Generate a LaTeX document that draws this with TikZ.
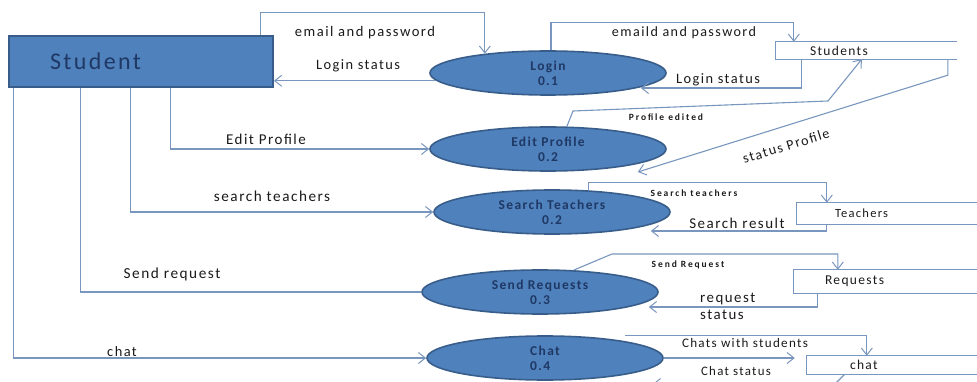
\documentclass[tikz,border=0pt]{standalone}
\usepackage{fontspec}
\setmainfont{Carlito}[LetterSpace=10]
\usetikzlibrary{shapes.geometric,arrows.meta,calc}
\definecolor{fillblue}{HTML}{4F81BD}
\definecolor{edgeblue}{HTML}{385D8A}
\definecolor{linec}{HTML}{7896BE}
\definecolor{navy}{HTML}{1F3864}
\definecolor{labelc}{HTML}{1A1A1A}
\begin{document}
\begin{tikzpicture}[x=1pt,y=-1pt,
  conn/.style={draw=linec, line width=1.1pt},
  arr/.style={conn, -{Straight Barb[length=7pt,width=11pt,line width=1pt]}},
  proc/.style={ellipse, draw=edgeblue, line width=1.6pt, fill=fillblue,
    minimum width=236pt, minimum height=44pt, inner sep=0pt, align=center,
    font=\fontsize{13.5}{15}\selectfont\bfseries, text=navy},
  store/.style={rectangle, inner ysep=0pt, align=left,
    font=\fontsize{13.5}{15}\selectfont, text=labelc},
  lbl/.style={font=\fontsize{14.4}{17}\selectfont, text=labelc, inner sep=0pt},
  small/.style={font=\fontsize{9.5}{11}\selectfont\bfseries\addfontfeature{LetterSpace=20}, text=labelc, inner sep=0pt}
]
\useasboundingbox (0,0) rectangle (977,382);
\clip (0,0) rectangle (977,382);

% external entity
\node[draw=edgeblue, line width=1.8pt, fill=fillblue, minimum height=51pt,
  inner xsep=41pt, text width=182pt, align=left,
  font=\fontsize{24}{26}\selectfont, text=navy] (stu) at (141,61.5) {Student};

% processes
\node[proc] (login)  at (548,73)  {Login\\0.1};
\node[proc] (edit)   at (548,149) {Edit Profile\\0.2};
\node[proc] (search) at (552,212) {Search Teachers\\0.2};
\node[proc] (send)   at (540,292) {Send Requests\\0.3};
\node[proc, align=left] (chat) at (545,358) {Chat\\0.4};

% data stores (open on the right)
\node[store, minimum height=17pt, inner xsep=34pt, text width=113pt] (studs)  at (866.5,50.5) {Students};
\node[store, minimum height=21pt, inner xsep=38pt, text width=117pt, font=\fontsize{12.5}{14}\selectfont] (teach)  at (893.5,213.5) {Teachers};
\node[store, minimum height=23pt, inner xsep=31pt, text width=134pt] (reqs)   at (892,281.5) {Requests};
\node[store, minimum height=18pt, inner xsep=43pt, text width=97pt] (chatst) at (898.5,365) {chat};
\foreach \s in {studs,teach,reqs,chatst}{
  \draw[conn] (\s.north east) -- (\s.north west) -- (\s.south west) -- (\s.south east);
}

% Student <-> Login
\draw[arr] ([xshift=252pt]stu.north west) -- ++(0,-23) -| (login.163);
\draw[arr] (login.184) -- (login.184 -| stu.east);
\node[lbl, font=\fontsize{14.6}{17}\selectfont] (l1) at (365,33) {email and password};
\node[lbl] (l2) at (358,66) {Login status};

% Login <-> Students
\draw[arr] ([xshift=3pt]login.north) -- ++(0,-28) -| ([xshift=18pt]studs.north west);
\draw[arr] ([xshift=26pt]studs.south west) |- ($(login.east)+(-26,15)$);
\node[lbl, font=\fontsize{14.1}{17}\selectfont] (l3) at (684,33) {emaild and password};
\node[lbl] (l4) at (718,80) {Login status};

% Edit Profile <-> Students
\draw[arr] (edit.50) -- (573,111) -- (828,101) -- ([xshift=86pt]studs.south west);
\draw[arr] ([xshift=172pt]studs.south west) -- ++(0,16) -- ($(edit.east)+(-29,23)$);
\node[small] (l5) at (666,117) {Profile edited};
\node[lbl, font=\fontsize{14.1}{17}\selectfont, rotate=17] (l6) at (786,146) {status Profile};

% Student -> processes
\draw[arr] ([xshift=162pt]stu.south west) |- (edit.west);
\draw[arr] ([xshift=122pt]stu.south west) |- (search.west);
\draw[conn] ([xshift=72pt]stu.south west) |- (send.west);
\draw[arr] ([xshift=5pt]stu.south west) |- (chat.west);
\node[lbl, font=\fontsize{15}{17}\selectfont] (l7) at (266,139) {Edit Profile};
\node[lbl, font=\fontsize{15.2}{17}\selectfont] (l8) at (272,196) {search teachers};
\node[lbl, font=\fontsize{15.3}{17}\selectfont] (l11) at (172,274) {Send request};
\node[lbl] (l14) at (122,352) {chat};

% Search Teachers <-> Teachers
\draw[arr] (search.31) -- ++(0,-8) -| ([xshift=30pt]teach.north west);
\draw[arr] ([xshift=30pt]teach.south west) |- ($(search.east)+(-20,19)$);
\node[small] (l9) at (694,193) {Search teachers};
\node[lbl, font=\fontsize{15}{17}\selectfont] (l10) at (737,223) {Search result};

% Send Requests <-> Requests
\draw[arr] (send.33) -- (612,254) -| ([xshift=44pt]reqs.north west);
\draw[arr] ([xshift=24pt]reqs.south west) |- ($(send.east)+(-10,15)$);
\node[small] (l12) at (688,265) {Send Request};
\node[lbl, font=\fontsize{14.9}{17}\selectfont, align=left, anchor=west] (l13) at (700,306.5) {request\\status};

% Chat <-> chat
\draw[arr] ([xshift=80pt]chat.north) -| ([xshift=60pt]chatst.north west);
\draw[arr] (chat.east) -- ($(chat.east -| chatst.west)+(-12,0)$);
\draw[arr] ([xshift=38pt]chatst.south west) -- ++(-10,10) -- ($(chat.east)+(-11,26)$);
\node[lbl, font=\fontsize{13.1}{15}\selectfont] (l15) at (745,343) {Chats with students};
\node[lbl, font=\fontsize{12.9}{15}\selectfont] (l16) at (736,371) {Chat status};
\end{tikzpicture}
\end{document}
